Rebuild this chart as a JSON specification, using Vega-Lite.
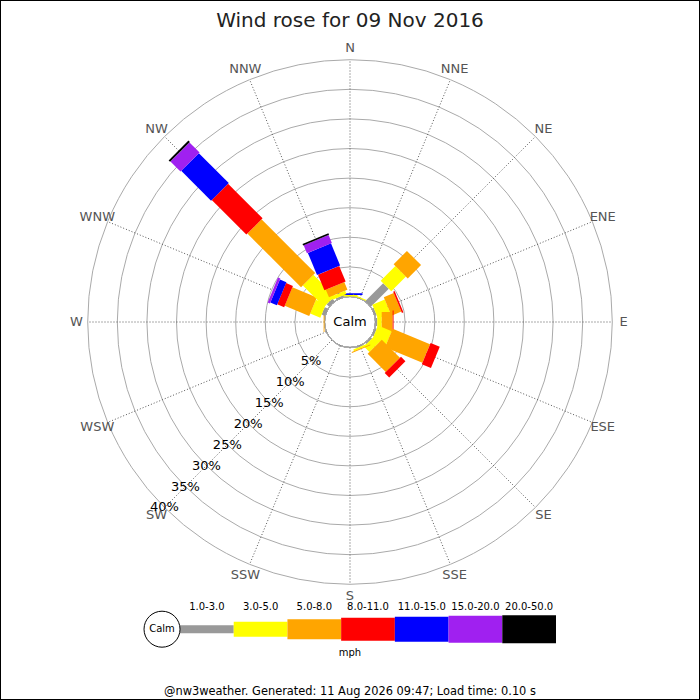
{
  "$schema": "https://vega.github.io/schema/vega-lite/v6.json",
  "width": 700,
  "height": 700,
  "autosize": "none",
  "padding": 0,
  "background": "white",
  "title": {"text": "Wind rose for 09 Nov 2016", "fontSize": 20, "fontWeight": "normal", "font": "DejaVu Sans", "color": "#222222", "anchor": "middle", "frame": "group", "baseline": "alphabetic", "offset": -25, "dy": 22},
  "config": {
    "view": {"stroke": "black", "strokeWidth": 2},
    "axis": {"disable": true},
    "legend": {"disable": true},
    "font": "DejaVu Sans"
  },
  "datasets": {
    "bins": [
      {"bin": "1.0-3.0", "lo": 1},
      {"bin": "3.0-5.0", "lo": 3},
      {"bin": "5.0-8.0", "lo": 5},
      {"bin": "8.0-11.0", "lo": 8},
      {"bin": "11.0-15.0", "lo": 11},
      {"bin": "15.0-20.0", "lo": 15},
      {"bin": "20.0-50.0", "lo": 20}
    ],
    "dirs": [
      {"dir": "N", "deg": 0}, {"dir": "NNE", "deg": 22.5}, {"dir": "NE", "deg": 45}, {"dir": "ENE", "deg": 67.5},
      {"dir": "E", "deg": 90}, {"dir": "ESE", "deg": 112.5}, {"dir": "SE", "deg": 135}, {"dir": "SSE", "deg": 157.5},
      {"dir": "S", "deg": 180}, {"dir": "SSW", "deg": 202.5}, {"dir": "SW", "deg": 225}, {"dir": "WSW", "deg": 247.5},
      {"dir": "W", "deg": 270}, {"dir": "WNW", "deg": 292.5}, {"dir": "NW", "deg": 315}, {"dir": "NNW", "deg": 337.5}
    ],
    "rings": [
      {"pct": 0, "label": ""}, {"pct": 5, "label": "5%"}, {"pct": 10, "label": "10%"}, {"pct": 15, "label": "15%"},
      {"pct": 20, "label": "20%"}, {"pct": 25, "label": "25%"}, {"pct": 30, "label": "30%"}, {"pct": 35, "label": "35%"}, {"pct": 40, "label": "40%"}
    ],
    "notes": [
      {"k": "calm", "t": "Calm"},
      {"k": "unit", "t": "mph"},
      {"k": "foot", "t": "@nw3weather. Generated: 11 Aug 2026 09:47; Load time: 0.10 s"}
    ],
    "bars": [
      {"dir": "N", "deg": 0, "bin": "3.0-5.0", "pct": 0.25},
      {"dir": "N", "deg": 0, "bin": "11.0-15.0", "pct": 0.3},
      {"dir": "NNE", "deg": 22.5, "bin": "3.0-5.0", "pct": 0.2},
      {"dir": "NE", "deg": 45, "bin": "1.0-3.0", "pct": 4.29},
      {"dir": "NE", "deg": 45, "bin": "3.0-5.0", "pct": 3.51},
      {"dir": "NE", "deg": 45, "bin": "5.0-8.0", "pct": 3.18},
      {"dir": "ENE", "deg": 67.5, "bin": "1.0-3.0", "pct": 0.3},
      {"dir": "ENE", "deg": 67.5, "bin": "3.0-5.0", "pct": 2.27},
      {"dir": "ENE", "deg": 67.5, "bin": "5.0-8.0", "pct": 1.82},
      {"dir": "ENE", "deg": 67.5, "bin": "8.0-11.0", "pct": 0.26},
      {"dir": "E", "deg": 90, "bin": "1.0-3.0", "pct": 0.3},
      {"dir": "E", "deg": 90, "bin": "3.0-5.0", "pct": 0.75},
      {"dir": "E", "deg": 90, "bin": "5.0-8.0", "pct": 1.85},
      {"dir": "E", "deg": 90, "bin": "8.0-11.0", "pct": 0.15},
      {"dir": "ESE", "deg": 112.5, "bin": "1.0-3.0", "pct": 0.3},
      {"dir": "ESE", "deg": 112.5, "bin": "3.0-5.0", "pct": 2.5},
      {"dir": "ESE", "deg": 112.5, "bin": "5.0-8.0", "pct": 6.83},
      {"dir": "ESE", "deg": 112.5, "bin": "8.0-11.0", "pct": 1.67},
      {"dir": "SE", "deg": 135, "bin": "1.0-3.0", "pct": 0.3},
      {"dir": "SE", "deg": 135, "bin": "3.0-5.0", "pct": 1.3},
      {"dir": "SE", "deg": 135, "bin": "5.0-8.0", "pct": 4.33},
      {"dir": "SE", "deg": 135, "bin": "8.0-11.0", "pct": 1.07},
      {"dir": "SSE", "deg": 157.5, "bin": "1.0-3.0", "pct": 0.2},
      {"dir": "SSE", "deg": 157.5, "bin": "3.0-5.0", "pct": 0.3},
      {"dir": "SSE", "deg": 157.5, "bin": "5.0-8.0", "pct": 0.15},
      {"dir": "W", "deg": 270, "bin": "5.0-8.0", "pct": 0.15},
      {"dir": "WNW", "deg": 292.5, "bin": "1.0-3.0", "pct": 0.6},
      {"dir": "WNW", "deg": 292.5, "bin": "3.0-5.0", "pct": 1.85},
      {"dir": "WNW", "deg": 292.5, "bin": "5.0-8.0", "pct": 4.48},
      {"dir": "WNW", "deg": 292.5, "bin": "8.0-11.0", "pct": 1.26},
      {"dir": "WNW", "deg": 292.5, "bin": "11.0-15.0", "pct": 1.19},
      {"dir": "WNW", "deg": 292.5, "bin": "15.0-20.0", "pct": 0.42},
      {"dir": "NW", "deg": 315, "bin": "1.0-3.0", "pct": 0.6},
      {"dir": "NW", "deg": 315, "bin": "3.0-5.0", "pct": 5.1},
      {"dir": "NW", "deg": 315, "bin": "5.0-8.0", "pct": 12.82},
      {"dir": "NW", "deg": 315, "bin": "8.0-11.0", "pct": 8.25},
      {"dir": "NW", "deg": 315, "bin": "11.0-15.0", "pct": 7.14},
      {"dir": "NW", "deg": 315, "bin": "15.0-20.0", "pct": 2.4},
      {"dir": "NW", "deg": 315, "bin": "20.0-50.0", "pct": 0.35},
      {"dir": "NNW", "deg": 337.5, "bin": "1.0-3.0", "pct": 0.3},
      {"dir": "NNW", "deg": 337.5, "bin": "3.0-5.0", "pct": 0.6},
      {"dir": "NNW", "deg": 337.5, "bin": "5.0-8.0", "pct": 1.4},
      {"dir": "NNW", "deg": 337.5, "bin": "8.0-11.0", "pct": 2.85},
      {"dir": "NNW", "deg": 337.5, "bin": "11.0-15.0", "pct": 4.05},
      {"dir": "NNW", "deg": 337.5, "bin": "15.0-20.0", "pct": 1.45},
      {"dir": "NNW", "deg": 337.5, "bin": "20.0-50.0", "pct": 0.3}
    ]
  },
  "layer": [
    {
      "layer": [
        {
          "data": {"name": "rings"},
          "mark": {"type": "arc", "filled": false, "stroke": "#aaaaaa", "strokeWidth": 1, "theta": 0, "theta2": 6.2832},
          "encoding": {
            "x": {"datum": 0, "type": "quantitative", "scale": {"domain": [-59.122, 59.122], "nice": false, "zero": false}},
            "y": {"datum": 0, "type": "quantitative", "scale": {"domain": [-63.851, 54.392], "nice": false, "zero": false}},
            "radius": {"field": "pct", "type": "quantitative", "stack": null, "scale": {"type": "linear", "zero": false, "nice": false, "domain": [-4.307, 54.815], "range": [0, 350]}}
          }
        },
        {
          "data": {"name": "dirs"},
          "transform": [
            {"calculate": "4.307*sin(datum.deg*PI/180)", "as": "ax"},
            {"calculate": "4.307*cos(datum.deg*PI/180)", "as": "ay"},
            {"calculate": "44.307*sin(datum.deg*PI/180)", "as": "bx"},
            {"calculate": "44.307*cos(datum.deg*PI/180)", "as": "by"}
          ],
          "mark": {"type": "rule", "stroke": "#555555", "strokeWidth": 1, "strokeDash": [1, 2]},
          "encoding": {
            "x": {"field": "ax", "type": "quantitative", "scale": {"domain": [-59.122, 59.122], "nice": false, "zero": false}},
            "y": {"field": "ay", "type": "quantitative", "scale": {"domain": [-63.851, 54.392], "nice": false, "zero": false}},
            "x2": {"field": "bx"},
            "y2": {"field": "by"}
          }
        },
        {
          "data": {"name": "bars"},
          "transform": [
            {"lookup": "bin", "from": {"data": {"name": "bins"}, "key": "bin", "fields": ["lo"]}},
            {"stack": "pct", "groupby": ["dir"], "sort": [{"field": "lo", "order": "ascending"}], "as": ["s0", "s1"]},
            {"calculate": "(datum.s0+4.307)*sin(datum.deg*PI/180)", "as": "x0"},
            {"calculate": "(datum.s0+4.307)*cos(datum.deg*PI/180)", "as": "y0"},
            {"calculate": "(datum.s1+4.307)*sin(datum.deg*PI/180)", "as": "x1"},
            {"calculate": "(datum.s1+4.307)*cos(datum.deg*PI/180)", "as": "y1"}
          ],
          "mark": {"type": "rule", "strokeCap": "butt"},
          "encoding": {
            "x": {"field": "x0", "type": "quantitative", "scale": {"domain": [-59.122, 59.122], "nice": false, "zero": false}},
            "y": {"field": "y0", "type": "quantitative", "scale": {"domain": [-63.851, 54.392], "nice": false, "zero": false}},
            "x2": {"field": "x1"},
            "y2": {"field": "y1"},
            "color": {"field": "bin", "type": "nominal", "scale": {"type": "ordinal", "domain": ["1.0-3.0", "3.0-5.0", "5.0-8.0", "8.0-11.0", "11.0-15.0", "15.0-20.0", "20.0-50.0"], "range": ["#999999", "#ffff00", "#ffa500", "#ff0000", "#0000ff", "#a020f0", "#000000"]}},
            "strokeWidth": {"field": "bin", "type": "nominal", "scale": {"type": "ordinal", "domain": ["1.0-3.0", "3.0-5.0", "5.0-8.0", "8.0-11.0", "11.0-15.0", "15.0-20.0", "20.0-50.0"], "range": [8, 15, 20, 23, 25, 27, 28]}}
          }
        },
        {
          "data": {"name": "notes"},
          "transform": [{"filter": "datum.k == 'calm'"}],
          "mark": {"type": "text", "fontSize": 13, "color": "#000000", "align": "center", "baseline": "middle"},
          "encoding": {
            "x": {"datum": 0, "type": "quantitative", "scale": {"domain": [-59.122, 59.122], "nice": false, "zero": false}},
            "y": {"datum": 0, "type": "quantitative", "scale": {"domain": [-63.851, 54.392], "nice": false, "zero": false}},
            "text": {"field": "t"}
          }
        },
        {
          "data": {"name": "dirs"},
          "mark": {"type": "text", "fontSize": 13, "color": "#555555", "align": "center", "baseline": "middle"},
          "encoding": {
            "x": {"datum": 0, "type": "quantitative", "scale": {"domain": [-59.122, 59.122], "nice": false, "zero": false}},
            "y": {"datum": 0, "type": "quantitative", "scale": {"domain": [-63.851, 54.392], "nice": false, "zero": false}},
            "theta": {"field": "deg", "type": "quantitative", "stack": null, "scale": {"domain": [0, 360], "range": [0, 6.28319], "zero": true, "nice": false}},
            "radius": {"datum": 41.9, "type": "quantitative", "scale": {"type": "linear", "zero": false, "nice": false, "domain": [-4.307, 54.815], "range": [0, 350]}},
            "text": {"field": "dir"}
          }
        },
        {
          "data": {"name": "rings"},
          "transform": [{"filter": "datum.pct > 0"}],
          "mark": {"type": "text", "fontSize": 13, "color": "#000000", "align": "center", "baseline": "middle"},
          "encoding": {
            "x": {"datum": 0, "type": "quantitative", "scale": {"domain": [-59.122, 59.122], "nice": false, "zero": false}},
            "y": {"datum": 0, "type": "quantitative", "scale": {"domain": [-63.851, 54.392], "nice": false, "zero": false}},
            "theta": {"datum": 225, "type": "quantitative", "scale": {"domain": [0, 360], "range": [0, 6.28319], "zero": true, "nice": false}},
            "radius": {"field": "pct", "type": "quantitative", "stack": null, "scale": {"type": "linear", "zero": false, "nice": false, "domain": [-4.307, 54.815], "range": [0, 350]}},
            "text": {"field": "label"}
          }
        }
      ]
    },
    {
      "layer": [
        {
          "data": {"name": "bins"},
          "mark": {"type": "rule", "strokeCap": "butt"},
          "encoding": {
            "x": {"field": "bin", "type": "nominal", "bandPosition": 0, "scale": {"type": "band", "domain": ["Calm", "1.0-3.0", "3.0-5.0", "5.0-8.0", "8.0-11.0", "11.0-15.0", "15.0-20.0", "20.0-50.0"], "paddingInner": 0, "paddingOuter": 0, "range": [126.3, 556]}},
            "x2": {"field": "bin", "bandPosition": 1},
            "y": {"datum": -51.89, "type": "quantitative", "scale": {"domain": [-63.851, 54.392], "nice": false, "zero": false}},
            "color": {"field": "bin", "type": "nominal", "scale": {"type": "ordinal", "domain": ["1.0-3.0", "3.0-5.0", "5.0-8.0", "8.0-11.0", "11.0-15.0", "15.0-20.0", "20.0-50.0"], "range": ["#999999", "#ffff00", "#ffa500", "#ff0000", "#0000ff", "#a020f0", "#000000"]}},
            "strokeWidth": {"field": "bin", "type": "nominal", "scale": {"type": "ordinal", "domain": ["1.0-3.0", "3.0-5.0", "5.0-8.0", "8.0-11.0", "11.0-15.0", "15.0-20.0", "20.0-50.0"], "range": [8, 15, 20, 23, 25, 27, 28]}}
          }
        },
        {
          "data": {"name": "bins"},
          "mark": {"type": "text", "fontSize": 10, "color": "#000000", "align": "center", "baseline": "middle", "dy": -22.5},
          "encoding": {
            "x": {"field": "bin", "type": "nominal", "scale": {"type": "band", "domain": ["Calm", "1.0-3.0", "3.0-5.0", "5.0-8.0", "8.0-11.0", "11.0-15.0", "15.0-20.0", "20.0-50.0"], "paddingInner": 0, "paddingOuter": 0, "range": [126.3, 556]}},
            "y": {"datum": -51.89, "type": "quantitative", "scale": {"domain": [-63.851, 54.392], "nice": false, "zero": false}},
            "text": {"field": "bin"}
          }
        },
        {
          "data": {"name": "notes"},
          "transform": [{"filter": "datum.k == 'calm'"}],
          "mark": {"type": "point", "shape": "circle", "size": 1296, "filled": true, "fill": "white", "stroke": "#000000", "strokeWidth": 1, "opacity": 1},
          "encoding": {
            "x": {"datum": "Calm", "type": "nominal", "bandPosition": 0.665, "scale": {"type": "band", "domain": ["Calm", "1.0-3.0", "3.0-5.0", "5.0-8.0", "8.0-11.0", "11.0-15.0", "15.0-20.0", "20.0-50.0"], "paddingInner": 0, "paddingOuter": 0, "range": [126.3, 556]}},
            "y": {"datum": -51.89, "type": "quantitative", "scale": {"domain": [-63.851, 54.392], "nice": false, "zero": false}}
          }
        },
        {
          "data": {"name": "notes"},
          "transform": [{"filter": "datum.k == 'calm'"}],
          "mark": {"type": "text", "fontSize": 10, "color": "#000000", "align": "center", "baseline": "middle"},
          "encoding": {
            "x": {"datum": "Calm", "type": "nominal", "bandPosition": 0.665, "scale": {"type": "band", "domain": ["Calm", "1.0-3.0", "3.0-5.0", "5.0-8.0", "8.0-11.0", "11.0-15.0", "15.0-20.0", "20.0-50.0"], "paddingInner": 0, "paddingOuter": 0, "range": [126.3, 556]}},
            "y": {"datum": -51.89, "type": "quantitative", "scale": {"domain": [-63.851, 54.392], "nice": false, "zero": false}},
            "text": {"field": "t"}
          }
        },
        {
          "data": {"name": "notes"},
          "transform": [{"filter": "datum.k == 'unit'"}],
          "mark": {"type": "text", "fontSize": 10, "color": "#000000", "align": "center", "baseline": "middle", "dy": 24},
          "encoding": {
            "y": {"datum": -51.89, "type": "quantitative", "scale": {"domain": [-63.851, 54.392], "nice": false, "zero": false}},
            "text": {"field": "t"}
          }
        },
        {
          "data": {"name": "notes"},
          "transform": [{"filter": "datum.k == 'foot'"}],
          "mark": {"type": "text", "fontSize": 11.4, "color": "#000000", "align": "center", "baseline": "middle", "dy": 62.5},
          "encoding": {
            "y": {"datum": -51.89, "type": "quantitative", "scale": {"domain": [-63.851, 54.392], "nice": false, "zero": false}},
            "text": {"field": "t"}
          }
        }
      ]
    }
  ],
  "resolve": {"scale": {"x": "independent"}}
}
